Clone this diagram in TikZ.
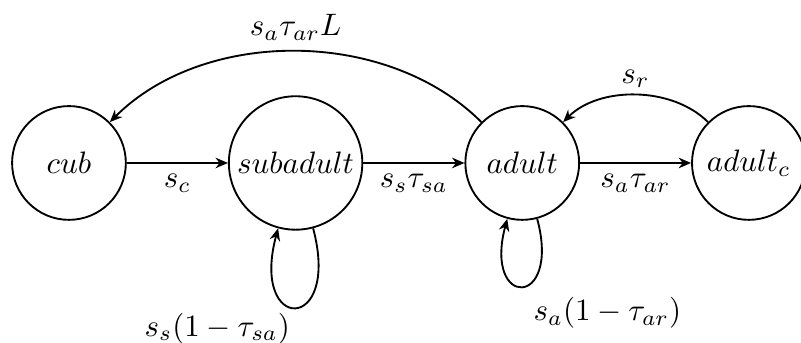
\documentclass[tikz,border=0pt]{standalone}
\usetikzlibrary{positioning,arrows.meta}

\begin{document}
\begin{tikzpicture}[node distance=2.57cm, on grid, >={Stealth[length=4pt,width=3.4pt]}, semithick]
  \useasboundingbox (-0.782,-2.041) rectangle (8.301,1.848);
  \node[draw, circle, inner sep=2pt, minimum size=1.29cm] (Cub) {$cub$};
  \node[draw, circle, inner sep=2pt, minimum size=1.29cm, right=of Cub] (Subadult) {$subadult$};
  \node[draw, circle, inner sep=2pt, minimum size=1.29cm, right=of Subadult] (Adult) {$adult$};
  \node[draw, circle, inner sep=2pt, minimum size=1.29cm, right=of Adult] (AdultC) {$adult_c$};

  \draw[->] (Cub) -- (Subadult) node[midway, below] {$s_c$};
  \draw[->] (Subadult) -- (Adult) node[midway, below] {$s_s\tau_{sa}$};
  \draw[->] (Adult) -- (AdultC) node[midway, below] {$s_a\tau_{ar}$};

  \draw[->] (Adult) to[bend right=45, looseness=0.92] node[midway, above] {$s_a\tau_{ar}L$} (Cub);
  \draw[->] (AdultC) to[bend right=45, looseness=0.9] node[midway, above, inner sep=2pt] {$s_r$} (Adult);

  \draw[->] (Subadult) to[out=-75, in=-105, looseness=8] node[below left, inner sep=1.5pt] {$s_s(1-\tau_{sa})$} (Subadult);
  \draw[->] (Adult) to[out=-75, in=-105, looseness=8] node[below right] {$s_a(1-\tau_{ar})$} (Adult);
\end{tikzpicture}
\end{document}
